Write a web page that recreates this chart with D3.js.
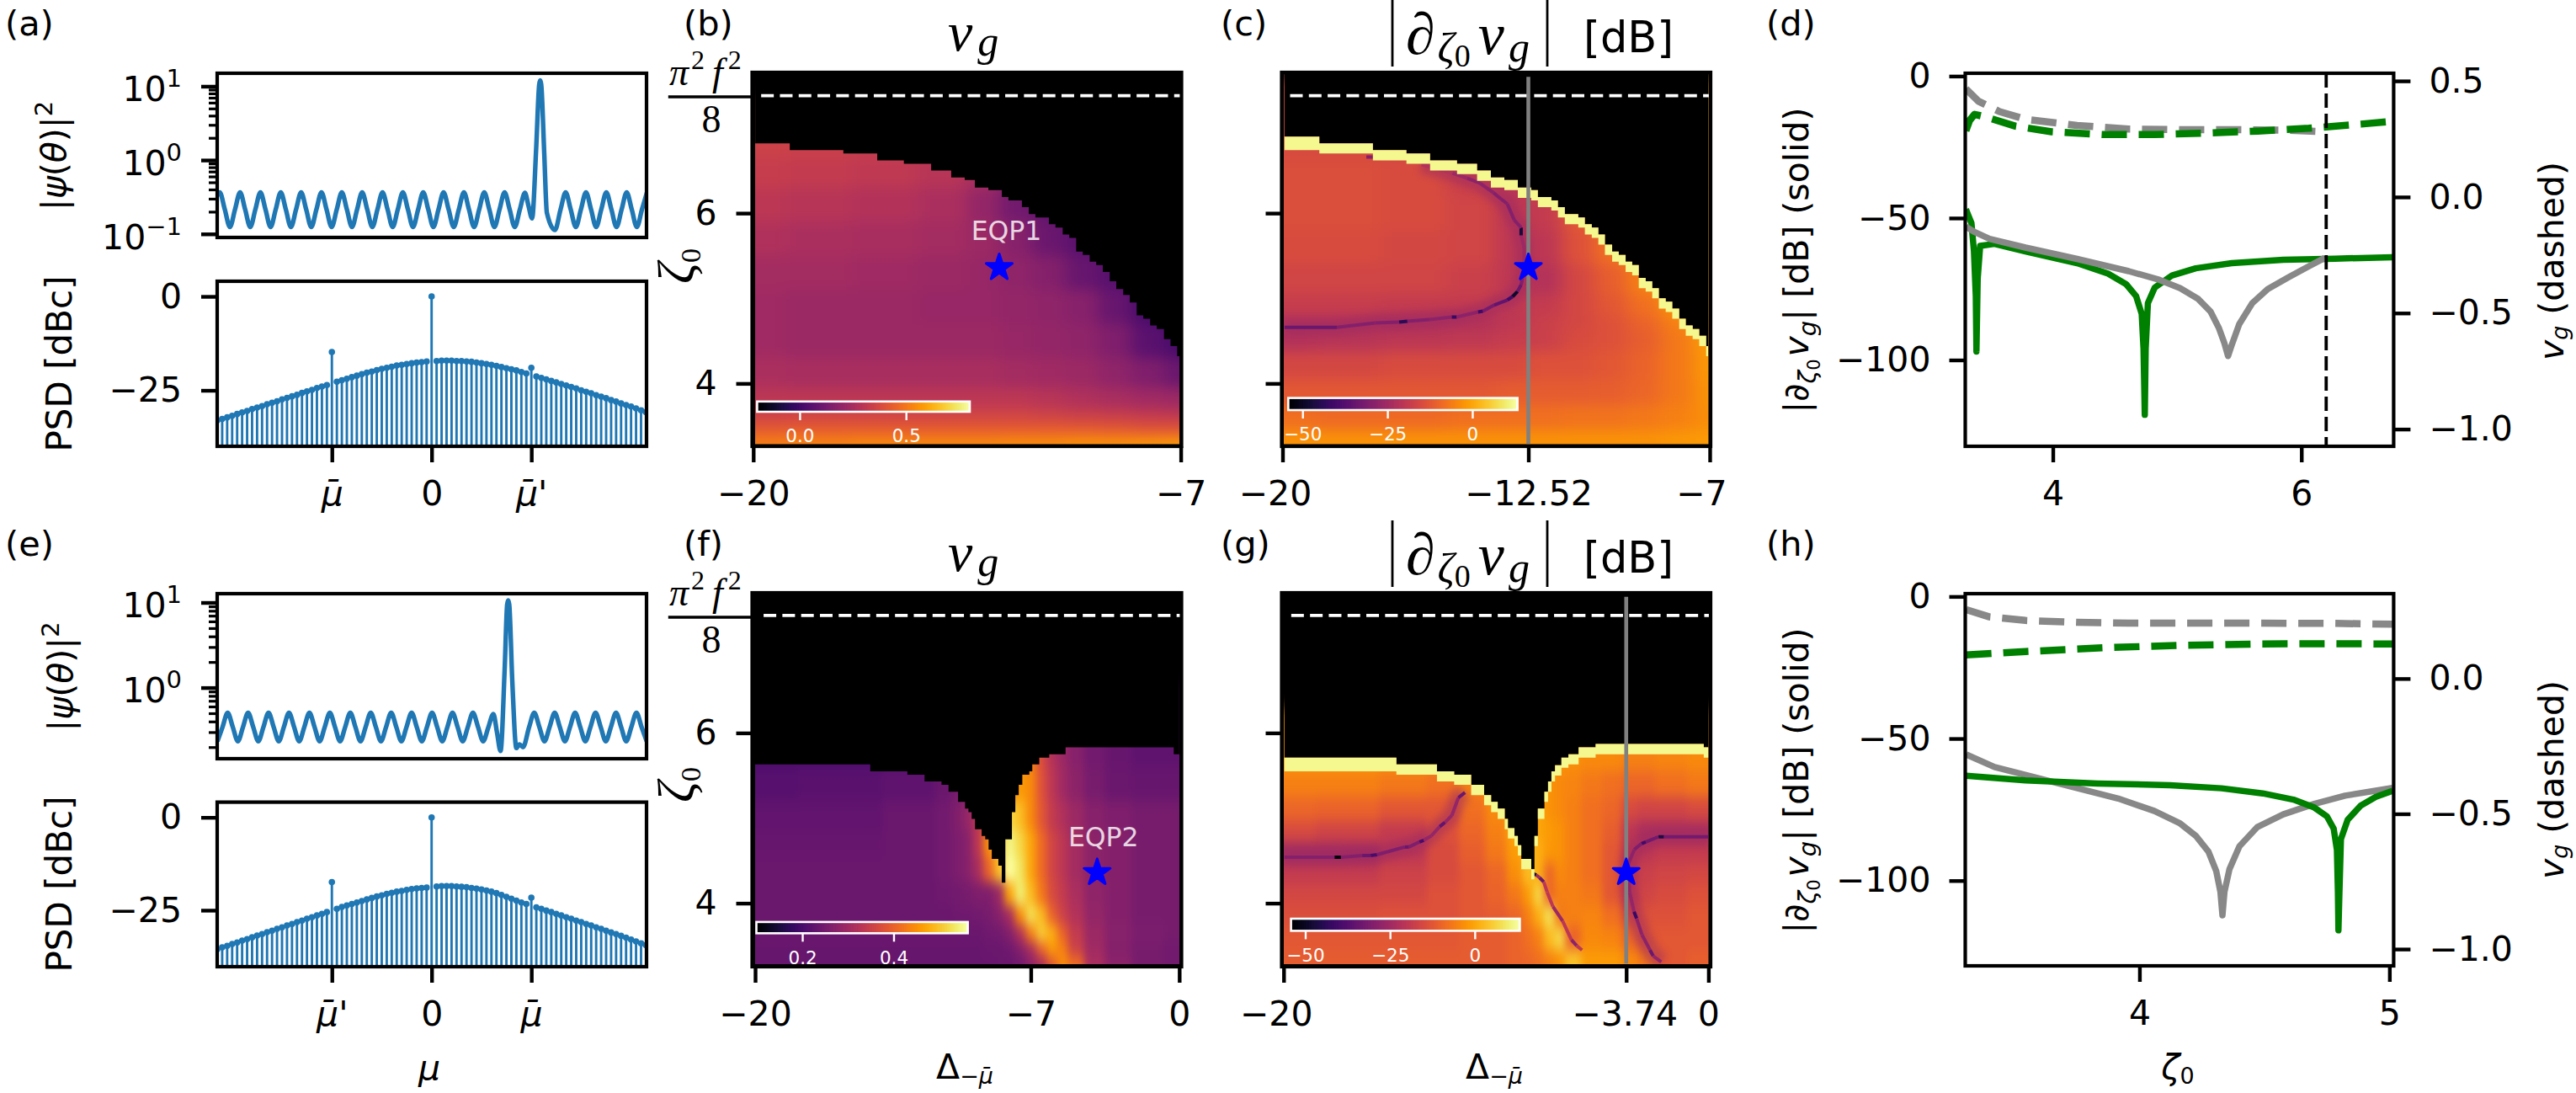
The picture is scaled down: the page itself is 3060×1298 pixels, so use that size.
<!DOCTYPE html>
<html>
<head>
<meta charset="utf-8">
<script src="https://cdnjs.cloudflare.com/ajax/libs/d3/7.8.5/d3.min.js"></script>
<style>
body { margin: 0; background: #fff; }
svg { display: block; font-family: "DejaVu Sans"; }
</style>
</head>
<body>
<script>
// --- top panels (a, e): field intensity against theta (sample position)
var thetaA = [-0.5,0,1,2,3,4,5,6,7,8,9,10,11,12,13,14,15,16,17,18,19,20,21,22,23,24,25,26,27,28,29,30,31,32,33,34,35,36,37,38,39,40,41,42,43,44,45,46,47,48,49,50,51,52,53,54,55,56,57,58,59,60,60.7,61.4,62.2,62.8,63,63.2,63.8,64.3,65.9,67,68,69,70,71,72,73,74,75,76,77,78,79,80,81,82,83,84];
var psiA = [0.33,0.366,0.214,0.124,0.214,0.366,0.214,0.124,0.214,0.366,0.214,0.124,0.214,0.366,0.214,0.124,0.214,0.366,0.214,0.124,0.214,0.366,0.214,0.124,0.214,0.366,0.214,0.124,0.214,0.366,0.214,0.124,0.214,0.366,0.214,0.124,0.214,0.366,0.214,0.124,0.214,0.366,0.214,0.124,0.214,0.366,0.214,0.124,0.214,0.366,0.214,0.124,0.214,0.366,0.214,0.124,0.214,0.366,0.214,0.124,0.214,0.36,0.24,0.162,1.4,10.5,12,10.5,1.2,0.195,0.113,0.214,0.366,0.214,0.124,0.214,0.366,0.214,0.124,0.214,0.366,0.214,0.124,0.214,0.366,0.214,0.124,0.214,0.366];
var thetaE = [-2,-1,0,1,2,3,4,5,6,7,8,9,10,11,12,13,14,15,16,17,18,19,20,21,22,23,24,25,26,27,28,29,30,31,32,33,34,35,36,37,38,39,40,41,42,43,44,45,46,47,48,49,50,51,52,52.7,53.4,54.2,54.7,54.9,55.1,55.7,56.5,57.1,57.8,59,60,61,62,63,64,65,66,67,68,69,70,71,72,73,74,75,76,77,78,79,80,81,82];
var psiE = [0.234,0.345,0.507,0.345,0.234,0.345,0.507,0.345,0.234,0.345,0.507,0.345,0.234,0.345,0.507,0.345,0.234,0.345,0.507,0.345,0.234,0.345,0.507,0.345,0.234,0.345,0.507,0.345,0.234,0.345,0.507,0.345,0.234,0.345,0.507,0.345,0.234,0.345,0.507,0.345,0.234,0.345,0.507,0.345,0.234,0.345,0.507,0.345,0.234,0.345,0.507,0.345,0.234,0.34,0.49,0.3,0.18,1.6,9.5,10.6,9.5,1.2,0.195,0.216,0.2,0.345,0.507,0.345,0.234,0.345,0.507,0.345,0.234,0.345,0.507,0.345,0.234,0.345,0.507,0.345,0.234,0.345,0.507,0.345,0.234,0.345,0.507,0.345,0.234];

// --- PSD stems, modes -43 .. 43
var modes = [-43,-42,-41,-40,-39,-38,-37,-36,-35,-34,-33,-32,-31,-30,-29,-28,-27,-26,-25,-24,-23,-22,-21,-20,-19,-18,-17,-16,-15,-14,-13,-12,-11,-10,-9,-8,-7,-6,-5,-4,-3,-2,-1,0,1,2,3,4,5,6,7,8,9,10,11,12,13,14,15,16,17,18,19,20,21,22,23,24,25,26,27,28,29,30,31,32,33,34,35,36,37,38,39,40,41,42,43];
var psdA = [-33,-32.6,-32.2,-31.8,-31.3,-30.9,-30.5,-30,-29.6,-29.2,-28.7,-28.3,-27.9,-27.4,-27,-26.6,-26.2,-25.7,-25.3,-24.9,-24.4,-24,-23.6,-14.8,-22.7,-22.3,-21.9,-21.5,-21.1,-20.7,-20.3,-20,-19.6,-19.3,-19,-18.7,-18.4,-18.2,-18,-17.8,-17.6,-17.5,-17.3,0,-17.2,-17.1,-17.1,-17.1,-17.2,-17.2,-17.3,-17.4,-17.6,-17.8,-18,-18.2,-18.5,-18.8,-19.1,-19.4,-19.7,-20.1,-20.5,-19,-21.3,-21.7,-22.1,-22.5,-22.9,-23.3,-23.7,-24.1,-24.5,-25,-25.4,-25.8,-26.3,-26.7,-27.1,-27.6,-28,-28.5,-28.9,-29.3,-29.8,-30.3,-30.8];
var psdE = [-35.5,-35,-34.6,-34.1,-33.7,-33.2,-32.8,-32.3,-31.8,-31.4,-30.9,-30.5,-30,-29.6,-29.1,-28.7,-28.2,-27.8,-27.3,-26.9,-26.4,-26,-25.5,-17.4,-24.6,-24.1,-23.7,-23.3,-22.9,-22.5,-22.1,-21.7,-21.3,-21,-20.6,-20.3,-20,-19.8,-19.5,-19.3,-19.1,-19,-18.9,0,-18.6,-18.5,-18.5,-18.5,-18.6,-18.7,-18.8,-19,-19.2,-19.4,-19.7,-20,-20.4,-20.9,-21.4,-21.9,-22.4,-22.9,-23.3,-21.6,-24.2,-24.6,-25.1,-25.5,-26,-26.4,-26.9,-27.3,-27.8,-28.2,-28.7,-29.1,-29.6,-30,-30.5,-31,-31.4,-31.9,-32.4,-32.9,-33.4,-33.9,-34.4];

// --- heat maps: level = position along that panel's colourbar, 0 to 1
var colsB = [-20,-18,-16,-14,-13,-12,-11,-10,-9,-8,-7];
var rowsB = [6.8,6.5,6.1,5.7,5.3,4.9,4.5,4.1,3.8,3.6,3.45,3.3];
var levelB = [
 [.55,.54,.53,.52,.50,.45,.38,.30,.28,.25,.22],
 [.53,.52,.51,.49,.45,.38,.32,.28,.26,.24,.22],
 [.50,.49,.48,.46,.40,.32,.28,.26,.25,.24,.22],
 [.47,.46,.45,.44,.42,.37,.30,.26,.24,.22,.22],
 [.44,.44,.43,.42,.41,.39,.36,.29,.25,.22,.20],
 [.43,.42,.42,.41,.41,.40,.39,.37,.29,.22,.20],
 [.43,.42,.42,.42,.42,.41,.40,.39,.35,.26,.22],
 [.46,.45,.45,.45,.45,.44,.43,.42,.39,.35,.30],
 [.50,.50,.50,.50,.50,.50,.49,.47,.45,.43,.42],
 [.56,.57,.57,.57,.57,.57,.56,.55,.54,.53,.52],
 [.63,.64,.64,.64,.64,.64,.64,.64,.63,.62,.62],
 [.72,.73,.74,.74,.74,.75,.75,.76,.76,.77,.78]];
var rowsC = [6.8,6.4,6,5.6,5.2,4.9,4.7,4.55,4.2,3.9,3.6,3.3];
var levelC = [
 [.58,.58,.57,.54,.52,.58,.64,.72,.76,.78,.80],
 [.59,.59,.58,.54,.49,.56,.64,.72,.76,.78,.80],
 [.59,.59,.58,.56,.50,.52,.62,.72,.76,.80,.82],
 [.58,.58,.57,.56,.50,.50,.60,.68,.76,.80,.82],
 [.56,.56,.56,.54,.50,.48,.57,.64,.72,.78,.82],
 [.53,.53,.52,.52,.51,.52,.57,.62,.68,.76,.82],
 [.48,.48,.47,.48,.50,.54,.57,.60,.65,.72,.80],
 [.48,.49,.50,.51,.53,.54,.58,.60,.64,.70,.78],
 [.57,.57,.58,.58,.58,.60,.60,.62,.65,.70,.77],
 [.62,.62,.62,.62,.63,.63,.63,.64,.66,.70,.76],
 [.68,.67,.67,.68,.68,.68,.69,.69,.70,.72,.75],
 [.76,.76,.76,.76,.76,.76,.76,.76,.76,.77,.78]];
var colsF = [-20,-16,-12,-11,-10.5,-10,-9.5,-9,-8.5,-8,-7.5,-7,-6.5,-6,-5.5,-5,-4,-3,-1.5,0];
var rowsF = [5.8,5.4,5,4.7,4.4,4.1,3.85,3.65,3.45,3.3];
var levelF = [
 [.22,.22,.23,.25,.27,.30,.33,.40,.50,.60,.70,.72,.58,.48,.42,.37,.32,.29,.27,.27],
 [.25,.26,.27,.30,.33,.36,.40,.50,.60,.70,.78,.74,.60,.50,.43,.38,.33,.30,.29,.29],
 [.28,.28,.30,.32,.35,.40,.50,.62,.75,.90,.85,.74,.62,.52,.47,.42,.37,.35,.33,.33],
 [.29,.29,.30,.32,.34,.37,.50,.75,.85,.97,.90,.80,.67,.56,.50,.44,.38,.36,.33,.33],
 [.30,.30,.30,.32,.34,.37,.45,.65,.85,1.0,.93,.80,.67,.56,.50,.44,.38,.36,.33,.33],
 [.30,.30,.30,.31,.32,.33,.35,.35,.42,.80,.95,.84,.70,.58,.52,.46,.39,.36,.33,.33],
 [.30,.30,.30,.30,.31,.31,.32,.33,.37,.45,.75,.92,.84,.65,.55,.48,.40,.36,.33,.33],
 [.30,.30,.30,.30,.30,.30,.30,.31,.32,.36,.48,.72,.88,.82,.65,.52,.42,.37,.34,.33],
 [.29,.29,.29,.29,.29,.29,.29,.30,.30,.31,.36,.45,.65,.78,.72,.55,.43,.36,.33,.32],
 [.29,.29,.29,.29,.29,.29,.29,.29,.30,.30,.32,.38,.45,.62,.75,.68,.46,.38,.33,.32]];
var colsG = [-20,-17,-14,-12.5,-11,-10,-9,-8.5,-8,-7.5,-7,-6.5,-5.5,-4.5,-3.7,-3,-2,0];
var rowsG = [5.7,5.4,5.1,4.85,4.6,4.35,4.1,3.85,3.6,3.3];
var levelG = [
 [.76,.76,.75,.74,.78,.80,.80,.80,.80,.78,.76,.75,.74,.74,.72,.72,.73,.74],
 [.72,.72,.70,.68,.72,.78,.80,.80,.80,.76,.74,.73,.70,.68,.66,.66,.68,.70],
 [.66,.65,.62,.62,.68,.74,.80,.82,.80,.76,.74,.72,.68,.66,.58,.56,.56,.58],
 [.58,.56,.52,.60,.66,.72,.80,.83,.80,.78,.76,.72,.68,.64,.50,.46,.46,.46],
 [.44,.44,.50,.58,.64,.70,.78,.85,.82,.77,.76,.72,.68,.62,.50,.50,.52,.52],
 [.52,.52,.55,.58,.62,.66,.75,.85,.82,.66,.74,.72,.68,.62,.52,.54,.56,.57],
 [.57,.57,.57,.60,.62,.65,.70,.78,.90,.66,.72,.72,.70,.62,.52,.56,.58,.60],
 [.59,.59,.60,.60,.62,.63,.66,.72,.82,.92,.70,.72,.73,.68,.58,.60,.60,.62],
 [.62,.62,.62,.62,.63,.63,.65,.68,.72,.84,.90,.65,.74,.73,.66,.62,.62,.62],
 [.63,.63,.63,.63,.63,.63,.65,.66,.68,.72,.76,.86,.78,.78,.74,.70,.62,.64]];

// --- existence boundary of each map, as stairs: start of each step, top of each step
var stairDeltaB = [-19.94,-18.89,-17.26,-16.23,-15.42,-14.59,-13.98,-13.57,-13.26,-12.85,-12.44,-12.24,-11.83,-11.62,-11.42,-11.01,-10.81,-10.59,-10.39,-10.18,-9.98,-9.77,-9.57,-9.37,-9.16,-8.96,-8.75,-8.55,-8.34,-8.14,-7.93,-7.73,-7.51,-7.31,-7.11,-7.03];
var stairZetaB = [6.82,6.74,6.70,6.62,6.58,6.50,6.42,6.39,6.30,6.27,6.19,6.15,6.07,5.99,5.95,5.87,5.83,5.75,5.71,5.55,5.51,5.43,5.39,5.31,5.20,5.11,5.04,4.95,4.80,4.76,4.68,4.64,4.52,4.44,4.32,4.32];
var stairDeltaC = [-19.94,-18.88,-17.25,-16.23,-15.51,-14.69,-14.08,-13.66,-13.25,-12.84,-12.43,-12.23,-11.82,-11.62,-11.41,-11,-10.8,-10.59,-10.39,-10.19,-9.97,-9.77,-9.56,-9.36,-9.16,-8.95,-8.75,-8.55,-8.34,-8.14,-7.93,-7.73,-7.52,-7.32,-7.11,-7.05];
var stairZetaC = [6.90,6.82,6.74,6.70,6.62,6.58,6.50,6.42,6.39,6.30,6.27,6.19,6.15,6.07,5.99,5.95,5.87,5.83,5.75,5.63,5.55,5.51,5.43,5.39,5.24,5.20,5.12,5.00,4.96,4.88,4.76,4.68,4.64,4.56,4.44,4.44];
var stairDeltaF = [-20,-14.57,-12.82,-12.01,-11.21,-10.88,-10.43,-10.1,-9.94,-9.79,-9.63,-9.32,-9.15,-8.99,-8.84,-8.53,-8.37,-8.2,-7.89,-7.73,-7.57,-7.4,-7.07,-6.93,-6.6,-6.13,-5.36,-0.26,0];
var stairZetaF = [5.63,5.55,5.51,5.43,5.39,5.31,5.19,5.11,5.07,4.99,4.87,4.79,4.75,4.63,4.52,4.44,4.24,4.75,5.07,5.27,5.39,5.51,5.55,5.63,5.71,5.75,5.83,5.75,5.75];
var stairDeltaG = [-19.96,-14.69,-12.78,-11.97,-11.17,-10.56,-10.23,-9.92,-9.59,-9.44,-9.13,-8.97,-8.81,-8.34,-8.19,-8.03,-7.72,-7.55,-7.39,-7.22,-6.92,-6.59,-6.11,-5.31,-0.22,0];
var stairZetaG = [5.71,5.63,5.55,5.51,5.39,5.27,5.19,5.11,4.99,4.88,4.79,4.68,4.52,4.40,4.79,5.11,5.31,5.43,5.55,5.62,5.71,5.75,5.83,5.87,5.83,5.83];

// --- dark zero-crossing curves in the derivative maps: [delta, zeta, level]
var nodalC = [
 [[-19.94,4.66,.3],[-18.35,4.66,.36],[-17.18,4.71,.36],[-16.45,4.72,.15],[-16.2,4.73,.36],[-15.53,4.75,.38],[-14.85,4.78,.18],[-14.7,4.78,.38],[-14.05,4.84,.2],[-13.9,4.85,.33],[-13.56,4.92,.28],[-13.16,4.98,.2],[-13,5.02,.08],[-12.85,5.08,.3],[-12.74,5.16,.35],[-12.65,5.34,.42],[-12.65,5.6,.42],[-12.74,5.74,.1],[-12.74,5.83,.36],[-12.95,5.92,.36],[-13.16,6.11,.36],[-13.36,6.17,.36],[-13.58,6.24,.38],[-13.98,6.35,.38],[-14.38,6.41,.42],[-14.83,6.47,.48],[-15.77,6.57,.5]],
 [[-17.45,6.66,.36],[-17.25,6.66,.36]]];
var nodalG = [
 [[-19.96,4.54,.36],[-17.6,4.54,.02],[-17.3,4.54,.36],[-16.3,4.56,.3],[-15.9,4.56,.22],[-15.6,4.57,.35],[-14.3,4.66,.3],[-14.1,4.66,.35],[-13.6,4.72,.22],[-13.4,4.74,.4],[-13.05,4.79,.4],[-12.65,4.9,.28],[-12.4,4.95,.4],[-12.08,5.03,.4],[-11.77,5.24,.3],[-11.46,5.3,.4]],
 [[0,4.78,.32],[-2.1,4.78,.12],[-2.35,4.78,.32],[-2.95,4.72,.2],[-3.15,4.7,.35],[-3.49,4.63,.38],[-3.77,4.46,.4],[-3.71,4.13,.4],[-3.5,3.9,.18],[-3.38,3.82,.38],[-3.13,3.63,.38],[-2.75,3.45,.3],[-2.6,3.38,.4],[-2.22,3.31,.28]],
 [[-8.26,4.35,.1],[-8.1,4.33,.42],[-7.95,4.3,.3],[-7.75,4.25,.5],[-7.59,4.13,.5],[-7.32,3.96,.42],[-6.86,3.79,.5],[-6.45,3.57,.38],[-6.2,3.5,.5],[-5.95,3.45,.55]]];

// --- line cuts (d): zeta, dB and zeta, vg
var grayDbD = [[3.3,-53],[3.365,-54.8],[3.49,-57.3],[3.78,-60.4],[4.195,-64.4],[4.61,-68.7],[4.86,-71.8],[5.025,-74.7],[5.17,-78.5],[5.27,-83],[5.335,-88.6],[5.38,-94],[5.41,-98.6],[5.44,-94.7],[5.5,-87.4],[5.605,-80],[5.73,-75],[5.9,-70.8],[6.06,-67],[6.19,-64]];
var greenDbD = [[3.3,-46.9],[3.345,-51.8],[3.365,-61.6],[3.38,-77.5],[3.385,-97],[3.395,-71.4],[3.415,-59.8],[3.53,-59.1],[3.78,-61.8],[4.195,-65.9],[4.445,-69.6],[4.59,-73.3],[4.67,-77.5],[4.715,-83.7],[4.73,-96],[4.74,-119.3],[4.747,-96],[4.765,-80],[4.82,-74.5],[4.96,-70.2],[5.15,-67.7],[5.44,-65.9],[5.855,-64.7],[6.27,-64.3],[6.735,-63.8]];
var grayVgD = [[3.3,.466],[3.4,.413],[3.57,.368],[3.78,.335],[4.195,.308],[4.61,.293],[5.025,.29],[5.44,.29],[5.855,.288],[6.19,.281]];
var greenVgD = [[3.3,.285],[3.33,.33],[3.37,.356],[3.45,.346],[3.7,.305],[3.99,.281],[4.4,.269],[4.82,.269],[5.23,.275],[5.65,.284],[6.06,.296],[6.48,.314],[6.73,.326]];
// --- line cuts (h)
var grayDbH = [[3.307,-55.6],[3.42,-60],[3.585,-63.7],[3.75,-67.4],[3.915,-71.1],[4.06,-75.5],[4.163,-79.9],[4.225,-84.2],[4.276,-89.8],[4.307,-96.6],[4.324,-104],[4.332,-112.2],[4.34,-104],[4.36,-96],[4.4,-87.9],[4.472,-81.1],[4.575,-76.7],[4.7,-73],[4.823,-70.1],[5.012,-67.4]];
var greenDbH = [[3.307,-63.1],[3.544,-64.7],[3.833,-65.8],[4.122,-66.4],[4.328,-67.5],[4.493,-69.3],[4.616,-71.5],[4.7,-74.3],[4.75,-77.4],[4.777,-81.7],[4.79,-89.2],[4.794,-104.1],[4.796,-117.5],[4.8,-104.1],[4.806,-85.4],[4.833,-78.6],[4.885,-73.6],[4.946,-70.5],[5.012,-68.4]];
var grayVgH = [[3.307,.255],[3.4,.228],[3.544,.215],[3.75,.208],[3.957,.205],[4.369,.205],[4.781,.204],[5.012,.201]];
var greenVgH = [[3.307,.0875],[3.544,.1],[3.853,.114],[4.163,.123],[4.472,.128],[4.781,.129],[5.012,.128]];

var blue = '#1f77b4', svgWidth = 3060, svgHeight = 1298;
var svg = d3.select('body').append('svg').attr('width', svgWidth).attr('height', svgHeight);
var defs = svg.append('defs');
var clipCount = 0;

function clip(x0, x1, y0, y1) {
  var id = 'clip' + (clipCount++);
  defs.append('clipPath').attr('id', id).append('rect')
    .attr('x', x0).attr('y', y0).attr('width', x1 - x0).attr('height', y1 - y0);
  return 'url(#' + id + ')';
}
function blur(std) {
  var id = 'blur' + (clipCount++);
  defs.append('filter').attr('id', id).attr('filterUnits', 'userSpaceOnUse')
    .attr('x', 0).attr('y', 0).attr('width', svgWidth).attr('height', svgHeight)
    .attr('color-interpolation-filters', 'sRGB')
    .append('feGaussianBlur').attr('stdDeviation', std);
  return 'url(#' + id + ')';
}
// text made of runs: t text, s size, i italic, dy shift, dx gap, f family
function rich(x, y, anchor, parts, rot) {
  var t = svg.append('text').attr('text-anchor', anchor)
    .attr('transform', 'translate(' + x + ',' + y + ') rotate(' + (rot || 0) + ')');
  parts.forEach(function (p) {
    var s = t.append('tspan').text(p.t).attr('font-size', p.s || 41);
    if (p.i) s.attr('font-style', 'italic');
    if (p.dy) s.attr('dy', p.dy);
    if (p.dx) s.attr('dx', p.dx);
    if (p.f) s.style('font-family', p.f);
  });
  return t;
}
function finishAxis(g, size) {
  g.attr('font-size', size || 41).style('font-family', '"DejaVu Sans"');
  g.select('.domain').remove();
  g.selectAll('.tick line').attr('stroke-width', 4.4);
  return g;
}
function frame(x0, x1, y0, y1) {
  svg.append('rect').attr('x', x0).attr('y', y0).attr('width', x1 - x0).attr('height', y1 - y0)
    .attr('fill', 'none').attr('stroke', '#000').attr('stroke-width', 4.2);
}
function muLabel(sel, name) {
  sel.text(null);
  sel.append('tspan').text('μ\u0304').attr('font-style', 'italic');
  if (name === "mu'") sel.append('tspan').text("'");
}

// --- panels a / e ---
function fieldPanel(f, xDomain, yDomain, thetas, psis) {
  var x = d3.scaleLinear().domain(xDomain).range([f[0], f[1]]);
  var y = d3.scaleLog().domain(yDomain).range([f[3], f[2]]);
  var vals = [];
  [0.1, 1, 10].forEach(function (d) { [1,2,3,4,5,6,7,8,9].forEach(function (m) { vals.push(d * m); }); });
  vals = vals.filter(function (v) { return v >= yDomain[0] && v <= yDomain[1]; });
  var ax = svg.append('g').attr('transform', 'translate(' + f[0] + ',0)')
    .call(d3.axisLeft(y).tickValues(vals).tickSize(19).tickPadding(23).tickFormat(''));
  finishAxis(ax);
  ax.selectAll('.tick').each(function (v) {
    var major = [0.1, 1, 10].indexOf(+v.toPrecision(3)) >= 0;
    var g = d3.select(this);
    if (!major) {
      g.select('line').attr('x2', -10).attr('stroke-width', 3.2);
      return;
    }
    var t = g.select('text').text(null).attr('dy', '0.42em');
    t.append('tspan').text('10');
    t.append('tspan').text(v < 0.5 ? '−1' : v < 5 ? '0' : '1').attr('font-size', 29).attr('dy', -17);
  });
  svg.append('path').datum(thetas.map(function (t, i) { return [t, psis[i]]; }))
    .attr('clip-path', clip(f[0], f[1], f[2], f[3]))
    .attr('fill', 'none').attr('stroke', blue).attr('stroke-width', 5.4).attr('stroke-linejoin', 'round')
    .attr('d', d3.line().curve(d3.curveMonotoneX).x(function (d) { return x(d[0]); }).y(function (d) { return y(d[1]); }));
  frame(f[0], f[1], f[2], f[3]);
}
function psdPanel(f, yDomain, values, names) {
  var x = d3.scaleLinear().domain([-43, 43.1]).range([f[0], f[1]]);
  var y = d3.scaleLinear().domain(yDomain).range([f[3], f[2]]);
  var g = svg.append('g').attr('clip-path', clip(f[0], f[1], f[2], f[3]));
  g.selectAll('line').data(modes).enter().append('line')
    .attr('x1', function (d) { return x(d); }).attr('x2', function (d) { return x(d); })
    .attr('y1', function (d, i) { return y(values[i]); }).attr('y2', f[3])
    .attr('stroke', blue).attr('stroke-width', 2.9);
  g.selectAll('circle').data(modes).enter().append('circle')
    .attr('cx', function (d) { return x(d); }).attr('cy', function (d, i) { return y(values[i]); })
    .attr('r', 3.8).attr('fill', blue);
  finishAxis(svg.append('g').attr('transform', 'translate(' + f[0] + ',0)')
    .call(d3.axisLeft(y).tickValues([-25, 0]).tickSize(19).tickPadding(23).tickFormat(function (d) { return d === 0 ? '0' : '−25'; })));
  var ax = svg.append('g').attr('transform', 'translate(0,' + f[3] + ')')
    .call(d3.axisBottom(x).tickValues([-20, 0, 20]).tickSize(19).tickPadding(22).tickFormat(function (d) { return d === 0 ? '0' : ''; }));
  finishAxis(ax);
  ax.selectAll('.tick text').each(function (d) {
    if (d !== 0) muLabel(d3.select(this), names[d < 0 ? 0 : 1]);
  });
  frame(f[0], f[1], f[2], f[3]);
}
fieldPanel([258, 768, 87, 282], [-0.5, 83.9], [Math.pow(10, -1.048), Math.pow(10, 1.176)], thetaA, psiA);
psdPanel([258, 768, 334, 530], [-39.9, 4.04], psdA, ['mu', "mu'"]);
fieldPanel([258, 768, 705, 901], [-2.05, 81.97], [Math.pow(10, -0.835), Math.pow(10, 1.104)], thetaE, psiE);
psdPanel([258, 768, 952.6, 1148], [-40.2, 4.1], psdE, ["mu'", 'mu']);

var inferno = d3.scaleSequential(d3.interpolateInferno).domain([0, 1]);

// --- heat maps b, c, f, g ---
function edges(a) {
  var out = [a[0] - 2 * (a[1] - a[0])];
  for (var i = 1; i < a.length; i++) out.push((a[i - 1] + a[i]) / 2);
  out.push(a[a.length - 1] + 2 * (a[a.length - 1] - a[a.length - 2]));
  return out;
}
function heatPanel(c) {
  var f = c.frame;
  var x = d3.scaleLinear().domain(c.xDomain).range([f[0], f[1]]);
  var y = d3.scaleLinear().domain(c.yDomain).range([f[3], f[2]]);
  svg.append('rect').attr('x', f[0]).attr('y', f[2]).attr('width', f[1] - f[0]).attr('height', f[3] - f[2]).attr('fill', '#000');
  var cut = clip(c.inner[0], c.inner[1], f[2], c.inner[2]);
  var heat = svg.append('g').attr('clip-path', cut);
  var soft = heat.append('g').attr('filter', blur(c.soft));
  var xe = edges(c.cols), ye = edges(c.rows);
  c.levels.forEach(function (row, j) {
    soft.selectAll(null).data(row).enter().append('rect')
      .attr('x', function (d, i) { return x(xe[i]); })
      .attr('width', function (d, i) { return x(xe[i + 1]) - x(xe[i]) + 1; })
      .attr('y', y(ye[j])).attr('height', y(ye[j + 1]) - y(ye[j]) + 1)
      .attr('fill', function (d) { return inferno(d); });
  });
  var lineXY = d3.line().x(function (d) { return x(d[0]); }).y(function (d) { return y(d[1]); });
  (c.nodal || []).slice(0, c.halos).forEach(function (curve) {
    heat.append('path').datum(curve).attr('d', lineXY).attr('fill', 'none')
      .attr('stroke', inferno(.42)).attr('stroke-width', 20).attr('opacity', .5).attr('filter', blur(5));
  });
  (c.nodal || []).forEach(function (curve) {
    heat.selectAll(null).data(curve.slice(0, -1)).enter().append('line')
      .attr('x1', function (d) { return x(d[0]); }).attr('y1', function (d) { return y(d[1]); })
      .attr('x2', function (d, i) { return x(curve[i + 1][0]); }).attr('y2', function (d, i) { return y(curve[i + 1][1]); })
      .attr('stroke', function (d) { return inferno(d[2]); }).attr('stroke-width', 4);
  });
  var stairs = c.stairD.map(function (d, i) { return [d, c.stairZ[Math.min(i, c.stairZ.length - 1)]]; });
  var top = svg.append('g').attr('clip-path', cut);
  top.append('path').datum(stairs).attr('fill', '#000').attr('d', d3.area().curve(d3.curveStepAfter)
    .x(function (d) { return x(d[0]); }).y0(f[2]).y1(function (d) { return y(d[1]); }));
  if (c.cap) {
    top.append('path').datum(stairs).attr('fill', inferno(.975)).attr('d', d3.area().curve(d3.curveStepAfter)
      .x(function (d) { return x(d[0]); }).y0(function (d) { return y(d[1]); })
      .y1(function (d, i) { return y(d[1] - (i === 0 ? .16 : .12)); }));
  }
  // limit line of the comb: dashed in the plot, fraction label on the axis
  svg.append('line').attr('x1', x(c.dashFrom)).attr('x2', f[1]).attr('y1', y(7.38)).attr('y2', y(7.38))
    .attr('stroke', '#fff').attr('stroke-width', 3.6).attr('stroke-dasharray', '15 7.3');
  if (c.gray !== undefined) {
    svg.append('line').attr('x1', x(c.gray)).attr('x2', x(c.gray)).attr('y1', y(7.6)).attr('y2', y(3.29))
      .attr('stroke', '#808080').attr('stroke-width', 4.6);
  }
  if (c.star) {
    svg.append('path').attr('d', d3.symbol().type(d3.symbolStar).size(300)())
      .attr('transform', 'translate(' + x(c.star[0]) + ',' + y(c.star[1]) + ')')
      .attr('fill', '#0000ff').attr('stroke', '#0000ff').attr('stroke-width', 3).attr('stroke-linejoin', 'round');
  }
  if (c.tag) {
    svg.append('text').text(c.tag[0]).attr('x', c.tag[1]).attr('y', c.tag[2]).attr('text-anchor', 'middle')
      .attr('font-size', 31.5).attr('fill', '#fff').attr('fill-opacity', .82);
  }
  // inset colourbar
  var b = c.bar, cx = d3.scaleLinear().domain(b.domain).range([b.x0, b.x1]);
  var ramp = svg.append('g');
  ramp.selectAll('rect').data(d3.range(0, 1, 1 / 128)).enter().append('rect')
    .attr('x', function (d) { return b.x0 + d * (b.x1 - b.x0); }).attr('width', (b.x1 - b.x0) / 128 + .7)
    .attr('y', b.y0).attr('height', b.y1 - b.y0).attr('fill', function (d) { return inferno(d); });
  ramp.append('rect').attr('x', b.x0).attr('y', b.y0).attr('width', b.x1 - b.x0).attr('height', b.y1 - b.y0)
    .attr('fill', 'none').attr('stroke', '#fff').attr('stroke-width', 2.6);
  var bax = svg.append('g').attr('transform', 'translate(0,' + b.y1 + ')').attr('color', '#fff')
    .call(d3.axisBottom(cx).tickValues(b.ticks).tickSize(10).tickPadding(11).tickFormat(function (d, i) { return b.labels[i]; }));
  finishAxis(bax, 21.5);
  bax.selectAll('.tick line').attr('stroke-width', 2.4);
  // axes
  var xa = svg.append('g').attr('transform', 'translate(0,' + f[3] + ')')
    .call(d3.axisBottom(x).tickValues(c.xTicks).tickSize(19).tickPadding(22).tickFormat(function (d, i) { return c.xLabels[i]; }));
  finishAxis(xa);
  xa.selectAll('.tick text').attr('dx', function (d, i) { return c.xShift ? c.xShift[i] : 0; });
  finishAxis(svg.append('g').attr('transform', 'translate(' + f[0] + ',0)')
    .call(d3.axisLeft(y).tickValues([4, 6]).tickSize(19).tickPadding(23).tickFormat(function (d) { return c.yLabels ? d : ''; })));
  frame(f[0], f[1], f[2], f[3]);
}
var vgBar = { x0: 899.4, x1: 1152, y0: 476.8, y1: 489, domain: [-0.2, 0.8], ticks: [0, 0.5], labels: ['0.0', '0.5'] };
var dbTicks = [-50, -25, 0], dbLabels = ['−50', '−25', '0'];
heatPanel({ frame: [893.5, 1403.5, 86, 530], inner: [897, 1401, 527.5], xDomain: [-20.033, -6.977], yDomain: [3.262, 7.653],
  cols: colsB, rows: rowsB, levels: levelB, soft: '10 8', stairD: stairDeltaB, stairZ: stairZetaB, dashFrom: -19.76,
  star: [-12.52, 5.36], tag: ['EQP1', 1195.5, 285], bar: vgBar,
  xTicks: [-20, -7], xLabels: ['−20', '−7'], yLabels: true });
heatPanel({ frame: [1522.5, 2032, 86, 530], inner: [1525, 2029.5, 527.5], xDomain: [-20.026, -6.974], yDomain: [3.262, 7.653],
  cols: colsB, rows: rowsC, levels: levelC, soft: '11 8', stairD: stairDeltaC, stairZ: stairZetaC, cap: true, nodal: nodalC, halos: 1, dashFrom: -19.77,
  gray: -12.52, star: [-12.52, 5.36],
  bar: { x0: 1530.3, x1: 1802.6, y0: 472.6, y1: 487, domain: [-54.2, 13.3], ticks: dbTicks, labels: dbLabels },
  xTicks: [-20, -12.52, -7], xLabels: ['−20', '−12.52', '−7'], xShift: [-9, 0, -10] });
heatPanel({ frame: [893.5, 1403.5, 704, 1148], inner: [897, 1401, 1145], xDomain: [-20.139, 0.107], yDomain: [3.254, 7.646],
  cols: colsF, rows: rowsF, levels: levelF, soft: '4 8', stairD: stairDeltaF, stairZ: stairZetaF, dashFrom: -19.6,
  star: [-3.87, 4.36], tag: ['EQP2', 1310.8, 1005],
  bar: { x0: 898.5, x1: 1149.6, y0: 1094.9, y1: 1108.3, domain: [0.0994, 0.5625], ticks: [0.2, 0.4], labels: ['0.2', '0.4'] },
  xTicks: [-20, -7, 0], xLabels: ['−20', '−7', '0'], yLabels: true });
heatPanel({ frame: [1522.5, 2032, 704, 1148], inner: [1525, 2029.5, 1145], xDomain: [-20.09, 0.103], yDomain: [3.254, 7.646],
  cols: colsG, rows: rowsG, levels: levelG, soft: '4 8', stairD: stairDeltaG, stairZ: stairZetaG, cap: true, nodal: nodalG, halos: 2, dashFrom: -19.64,
  gray: -3.87, star: [-3.87, 4.36],
  bar: { x0: 1533.6, x1: 1805.4, y0: 1091, y1: 1105.4, domain: [-54.2, 13.3], ticks: dbTicks, labels: dbLabels },
  xTicks: [-20, -3.87, 0], xLabels: ['−20', '−3.74', '0'], xShift: [-9, -2, 0] });

// --- line cuts d, h ---
function cutPanel(c) {
  var f = c.frame;
  var x = d3.scaleLinear().domain(c.xDomain).range([f[0], f[1]]);
  var yL = d3.scaleLinear().domain(c.dbDomain).range([f[3], f[2]]);
  var yR = d3.scaleLinear().domain(c.vgDomain).range([f[3], f[2]]);
  var g = svg.append('g').attr('clip-path', clip(f[0], f[1], f[2], f[3]));
  c.lines.forEach(function (l) {
    var y = l.right ? yR : yL;
    g.append('path').datum(l.data).attr('fill', 'none').attr('stroke', l.color)
      .attr('stroke-width', l.right ? 8.5 : 7.5).attr('stroke-dasharray', l.right ? '30 14' : null)
      .attr('stroke-linejoin', 'round')
      .attr('d', d3.line().x(function (d) { return x(d[0]); }).y(function (d) { return y(d[1]); }));
  });
  if (c.vline) {
    g.append('line').attr('x1', x(c.vline)).attr('x2', x(c.vline)).attr('y1', f[2]).attr('y2', f[3])
      .attr('stroke', '#000').attr('stroke-width', 3.8).attr('stroke-dasharray', '17 7');
  }
  finishAxis(svg.append('g').attr('transform', 'translate(' + f[0] + ',0)')
    .call(d3.axisLeft(yL).tickValues([-100, -50, 0]).tickSize(19).tickPadding(22).tickFormat(function (d) { return d === 0 ? '0' : '−' + (-d); })));
  finishAxis(svg.append('g').attr('transform', 'translate(' + f[1] + ',0)')
    .call(d3.axisRight(yR).tickValues(c.vgTicks).tickSize(20).tickPadding(22).tickFormat(function (d) { return (d < 0 ? '−' : '') + Math.abs(d).toFixed(1); })));
  finishAxis(svg.append('g').attr('transform', 'translate(0,' + f[3] + ')')
    .call(d3.axisBottom(x).tickValues(c.xTicks).tickSize(19).tickPadding(22).tickFormat(d3.format('d'))));
  frame(f[0], f[1], f[2], f[3]);
}
cutPanel({ frame: [2334.5, 2843.4, 87, 530], xDomain: [3.295, 6.743], dbDomain: [-130.4, 1], vgDomain: [-1.074, 0.533],
  vgTicks: [-1, -0.5, 0, 0.5], xTicks: [4, 6], vline: 6.2,
  lines: [{ data: greenDbD, color: 'green' }, { data: grayVgD, color: '#888', right: true }, { data: greenVgD, color: 'green', right: true }, { data: grayDbD, color: '#888' }] });
cutPanel({ frame: [2334.5, 2843.4, 705, 1147], xDomain: [3.303, 5.017], dbDomain: [-130, 1], vgDomain: [-1.062, 0.314],
  vgTicks: [-1, -0.5, 0], xTicks: [4, 5],
  lines: [{ data: grayDbH, color: '#888' }, { data: grayVgH, color: '#888', right: true }, { data: greenVgH, color: 'green', right: true }, { data: greenDbH, color: 'green' }] });

// --- panel letters, titles, axis labels ---
[['(a)', 6, 41.5], ['(b)', 812, 41.5], ['(c)', 1450, 41.5], ['(d)', 2098, 41.5],
 ['(e)', 6, 659.5], ['(f)', 812, 659.5], ['(g)', 1450, 659.5], ['(h)', 2098, 659.5]].forEach(function (d) {
  svg.append('text').text(d[0]).attr('x', d[1]).attr('y', d[2]).attr('font-size', 41.5);
});
var serif = '"Liberation Serif"';
[0, 618].forEach(function (dy) {
  // sizes kept small enough that the glyph boxes stay inside the page at the top
  rich(1126, 60 + dy, 'start', [{ t: 'v', s: 66, i: 1, f: serif }, { t: 'g', s: 50, i: 1, f: serif, dy: 6, dx: 6 }]);
  rich(1670, 64 + dy, 'start', [{ t: '∂', s: 70, i: 1, f: serif }, { t: 'ζ', s: 50, i: 1, f: serif, dy: 10, dx: 3 },
    { t: '0', s: 38, f: serif, dy: 5 }, { t: 'v', s: 70, i: 1, f: serif, dy: -15, dx: 9 }, { t: 'g', s: 50, i: 1, f: serif, dy: 9, dx: 5 }]);
  [1654, 1838].forEach(function (bx) {
    svg.append('line').attr('x1', bx).attr('x2', bx).attr('y1', dy).attr('y2', 79 + dy).attr('stroke', '#000').attr('stroke-width', 2.8);
  });
  rich(1881, 62 + dy, 'start', [{ t: '[dB]', s: 51 }]);
  // fraction on the zeta axis
  rich(795, 101 + dy, 'start', [{ t: 'π', s: 46, i: 1, f: serif }, { t: '2', s: 32, f: serif, dy: -19, dx: 3 },
    { t: 'f', s: 46, i: 1, f: serif, dy: 19, dx: 9 }, { t: '2', s: 32, f: serif, dy: -19, dx: 6 }]);
  svg.append('line').attr('x1', 793.8).attr('x2', 893.4).attr('y1', 115 + dy).attr('y2', 115 + dy).attr('stroke', '#000').attr('stroke-width', 3.3);
  rich(845, 157 + dy, 'middle', [{ t: '8', s: 46, f: serif }]);
  rich(824, 316 + dy - (dy ? 2 : 0), 'middle', [{ t: 'ζ', s: 62, i: 1, f: serif }, { t: '0', s: 34, f: serif, dy: 8 }], -90);
  rich(2148, 309 + dy, 'middle', [{ t: '|∂' }, { t: 'ζ', i: 1, s: 29, dy: 9 }, { t: '0', s: 21, dy: 5 }, { t: 'v', i: 1, dy: -14, dx: 3 }, { t: 'g', i: 1, s: 29, dy: 9 }, { t: '| [dB] (solid)', dy: -9 }], -90);
  rich(3045, 310 + dy - (dy ? 2 : 0), 'middle', [{ t: 'v', i: 1 }, { t: 'g', i: 1, s: 27, dy: 5 }, { t: '  (dashed)', dy: -5 }], -90);
});
rich(78, 185, 'middle', [{ t: '|' }, { t: 'ψ', i: 1 }, { t: '(' }, { t: 'θ', i: 1 }, { t: ')|' }, { t: '2', s: 29, dy: -16 }], -90);
rich(85.5, 803.5, 'middle', [{ t: '|' }, { t: 'ψ', i: 1 }, { t: '(' }, { t: 'θ', i: 1 }, { t: ')|' }, { t: '2', s: 29, dy: -16 }], -90);
rich(84.5, 432, 'middle', [{ t: 'PSD [dBc]', s: 42 }], -90);
rich(84.5, 1050, 'middle', [{ t: 'PSD [dBc]', s: 42 }], -90);
rich(510, 1282, 'middle', [{ t: 'μ', i: 1 }]);
rich(1146, 1281, 'middle', [{ t: 'Δ' }, { t: '−', s: 27, dy: 6 }, { t: 'μ\u0304', s: 27, i: 1 }]);
rich(1775, 1281, 'middle', [{ t: 'Δ' }, { t: '−', s: 27, dy: 6 }, { t: 'μ\u0304', s: 27, i: 1 }]);
rich(2587, 1281, 'middle', [{ t: 'ζ', i: 1 }, { t: '0', s: 27, dy: 6 }]);
</script>
</body>
</html>
